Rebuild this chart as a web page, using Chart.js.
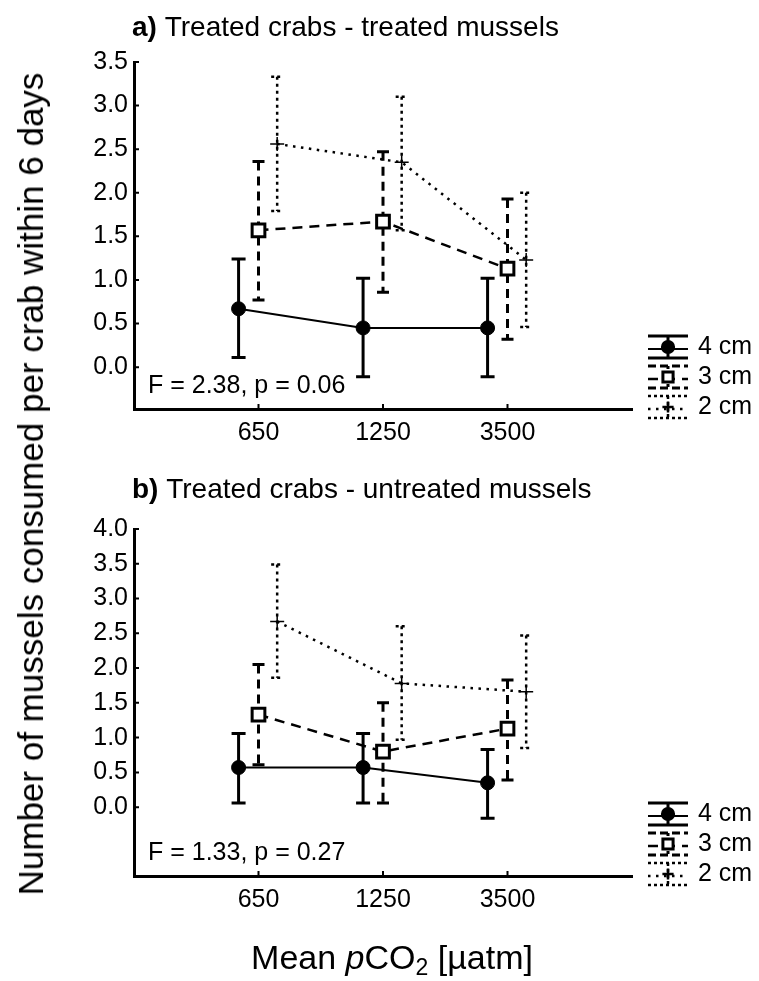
<!DOCTYPE html>
<html>
<head>
<meta charset="utf-8">
<script src="https://cdn.jsdelivr.net/npm/chart.js@4.4.0/dist/chart.umd.min.js"></script>
<style>
    html, body { margin: 0; padding: 0; background: #fff; }
    body { width: 759px; height: 981px; position: relative; overflow: hidden; font-family: 'Liberation Sans', Arial, sans-serif; color: #000; }
    .panel { position: absolute; left: 0; width: 759px; }
    #wrapA { top: 0; height: 470px; }
    #wrapB { top: 470px; height: 470px; }
    #ytitle { position: absolute; left: 31px; top: 484px; transform: translate(-50%, -50%) rotate(-90deg); white-space: nowrap; font-size: 35px; }
    #xtitle { position: absolute; left: 392px; top: 957px; transform: translate(-50%, -50%); white-space: nowrap; font-size: 34px; }
    #xtitle sub { font-size: 23px; vertical-align: -6px; line-height: 0; }
</style>
</head>
<body>
<div class="panel" id="wrapA"><canvas id="chartA" width="759" height="470"></canvas></div>
<div class="panel" id="wrapB"><canvas id="chartB" width="759" height="470"></canvas></div>
<div id="ytitle">Number of mussels consumed per crab within 6 days</div>
<div id="xtitle">Mean <i>p</i>CO<sub>2</sub> [µatm]</div>
<script>
// x categories (mean pCO2) and series
const categories = ['650', '1250', '3500'];
const seriesNames = ['4 cm', '3 cm', '2 cm'];

// a) treated crabs - treated mussels
const aMean4 = [0.67, 0.45, 0.45];
const aLow4 = [0.11, -0.11, -0.11];
const aHigh4 = [1.24, 1.02, 1.02];
const aMean3 = [1.57, 1.67, 1.13];
const aLow3 = [0.77, 0.86, 0.32];
const aHigh3 = [2.36, 2.47, 1.93];
const aMean2 = [2.56, 2.35, 1.23];
const aLow2 = [1.79, 1.57, 0.46];
const aHigh2 = [3.33, 3.10, 2.00];
const aTicks = [0, 0.5, 1.0, 1.5, 2.0, 2.5, 3.0, 3.5];

// b) treated crabs - untreated mussels
const bMean4 = [0.57, 0.57, 0.35];
const bLow4 = [0.06, 0.06, -0.16];
const bHigh4 = [1.06, 1.06, 0.83];
const bMean3 = [1.33, 0.80, 1.13];
const bLow3 = [0.61, 0.06, 0.39];
const bHigh3 = [2.05, 1.50, 1.83];
const bMean2 = [2.67, 1.78, 1.66];
const bLow2 = [1.86, 0.97, 0.85];
const bHigh2 = [3.49, 2.60, 2.47];
const bTicks = [0, 0.5, 1.0, 1.5, 2.0, 2.5, 3.0, 3.5, 4.0];

const FONT = "'Liberation Sans', Arial, sans-serif";

// per-series look: solid/filled circle, dashed/open square, dotted/cross
const STYLE = [
    { shift: -0.16, dash: [], lineWidth: 2, barWidth: 3, barDash: [], capDash: [], cap: 7, point: 'circle', radius: 7, fill: '#000', pointBorder: 1 },
    { shift: 0, dash: [10, 7], lineWidth: 2.5, barWidth: 3, barDash: [9, 6], capDash: [], cap: 6, point: 'rect', radius: 9, fill: '#fff', pointBorder: 3 },
    { shift: 0.15, dash: [2.5, 5.5], lineWidth: 2.5, barWidth: 2.5, barDash: [3, 4], capDash: [3, 3], cap: 6, point: 'cross', radius: 7, fill: '#000', pointBorder: 1.5 },
];

function buildDatasets(means) {
    return means.map((m, i) => ({
        label: seriesNames[i],
        data: m.map((v, j) => ({ x: j + STYLE[i].shift, y: v })),
        borderColor: '#000',
        borderWidth: STYLE[i].lineWidth,
        borderDash: STYLE[i].dash,
        pointStyle: STYLE[i].point,
        pointRadius: STYLE[i].radius,
        pointBackgroundColor: STYLE[i].fill,
        pointBorderColor: '#000',
        pointBorderWidth: STYLE[i].pointBorder,
        tension: 0,
        fill: false,
    }));
}

// error bars, inward ticks, panel title, F-test note and legend
const panelDeco = {
    id: 'panelDeco',
    beforeDatasetsDraw(chart, args, o) {
        const { ctx, scales: { x, y } } = chart;
        ctx.save();
        ctx.strokeStyle = '#000';
        o.low.forEach((lows, i) => {
            const st = STYLE[i];
            ctx.lineWidth = st.barWidth;
            lows.forEach((lo, j) => {
                const px = x.getPixelForValue(j + st.shift);
                const p1 = y.getPixelForValue(lo);
                const p2 = y.getPixelForValue(o.high[i][j]);
                ctx.setLineDash(st.barDash);
                ctx.beginPath();
                ctx.moveTo(px, p2);
                ctx.lineTo(px, p1);
                ctx.stroke();
                ctx.setLineDash(st.capDash);
                ctx.beginPath();
                ctx.moveTo(px - st.cap, p1); ctx.lineTo(px + st.cap, p1);
                ctx.moveTo(px - st.cap, p2); ctx.lineTo(px + st.cap, p2);
                ctx.stroke();
            });
        });
        ctx.restore();
    },
    afterDraw(chart, args, o) {
        const { ctx, chartArea: ca, scales: { x, y } } = chart;
        ctx.save();
        ctx.strokeStyle = '#000';
        ctx.fillStyle = '#000';
        ctx.lineWidth = 2;
        ctx.setLineDash([]);
        ctx.beginPath();
        o.yTicks.forEach(v => {
            const py = y.getPixelForValue(v);
            ctx.moveTo(ca.left, py);
            ctx.lineTo(ca.left + 5, py);
        });
        categories.forEach((c, j) => {
            const px = x.getPixelForValue(j);
            ctx.moveTo(px, ca.bottom);
            ctx.lineTo(px, ca.bottom - 5);
        });
        ctx.stroke();

        // title
        ctx.textBaseline = 'middle';
        ctx.textAlign = 'left';
        ctx.font = 'bold 28px ' + FONT;
        ctx.fillText(o.tag, 132, o.titleY);
        const w = ctx.measureText(o.tag).width;
        ctx.font = '28px ' + FONT;
        ctx.fillText(' ' + o.title, 132 + w, o.titleY);

        ctx.font = '25px ' + FONT;
        ctx.fillText(o.stat, ca.left + 14, ca.bottom - 23);

        // legend: error-bar glyph + marker per series
        const lx = ca.right + 36;
        seriesNames.forEach((name, i) => {
            const st = STYLE[i];
            const cy = ca.bottom - 62 + 30 * i;
            ctx.lineWidth = st.barWidth;
            ctx.setLineDash(st.capDash.length ? st.capDash : (i === 1 ? [8, 4] : []));
            ctx.beginPath();
            ctx.moveTo(lx - 20, cy - 11); ctx.lineTo(lx + 20, cy - 11);
            ctx.moveTo(lx - 20, cy + 11); ctx.lineTo(lx + 20, cy + 11);
            ctx.stroke();
            ctx.setLineDash(st.dash);
            ctx.lineWidth = st.lineWidth;
            ctx.beginPath();
            ctx.moveTo(lx - 20, cy + 2); ctx.lineTo(lx + 20, cy + 2);
            ctx.stroke();
            ctx.setLineDash(st.barDash.length ? [3, 3] : []);
            ctx.lineWidth = st.barWidth;
            ctx.beginPath();
            ctx.moveTo(lx, cy - 11); ctx.lineTo(lx, cy + 11);
            ctx.stroke();
            ctx.setLineDash([]);
            ctx.fillStyle = st.fill;
            Chart.helpers.drawPoint(ctx, { pointStyle: st.point, radius: st.radius * 0.8, borderWidth: st.pointBorder }, lx, cy);
            ctx.fillStyle = '#000';
            ctx.font = '25px ' + FONT;
            ctx.fillText(name, lx + 30, cy);
        });
        ctx.restore();
    }
};

function makePanel(canvasId, means, lows, highs, yMin, yMax, ticks, padTop, xHeight, tag, title, titleY, stat) {
    const ctx = document.getElementById(canvasId).getContext('2d');
    return new Chart(ctx, {
        type: 'line',
        data: { datasets: buildDatasets(means) },
        plugins: [panelDeco],
        options: {
            responsive: false,
            animation: false,
            devicePixelRatio: 1,
            layout: { padding: { top: padTop, right: 127, left: 0, bottom: 0 } },
            plugins: {
                legend: { display: false },
                tooltip: { enabled: false },
                panelDeco: { low: lows, high: highs, yTicks: ticks, tag, title, titleY, stat },
            },
            scales: {
                x: {
                    type: 'linear',
                    min: -1,
                    max: 3,
                    afterBuildTicks: s => { s.ticks = categories.map((c, j) => ({ value: j })); },
                    afterFit: s => { s.height = xHeight; },
                    grid: { display: false, drawTicks: false },
                    border: { display: true, color: '#000', width: 3 },
                    ticks: {
                        autoSkip: false,
                        maxRotation: 0,
                        padding: 9,
                        color: '#000',
                        font: { family: FONT, size: 25 },
                        callback: v => categories[v],
                    },
                },
                y: {
                    type: 'linear',
                    min: yMin,
                    max: yMax,
                    afterBuildTicks: s => { s.ticks = ticks.map(v => ({ value: v })); },
                    afterFit: s => { s.width = 134; },
                    grid: { display: false, drawTicks: false },
                    border: { display: true, color: '#000', width: 3 },
                    ticks: {
                        autoSkip: false,
                        padding: 6,
                        color: '#000',
                        font: { family: FONT, size: 25 },
                        callback: v => v.toFixed(1),
                    },
                },
            },
        },
    });
}

makePanel('chartA',
    [aMean4, aMean3, aMean2], [aLow4, aLow3, aLow2], [aHigh4, aHigh3, aHigh2],
    -0.48, 3.5, aTicks, 62, 61,
    'a)', 'Treated crabs - treated mussels', 28, 'F = 2.38, p = 0.06');

makePanel('chartB',
    [bMean4, bMean3, bMean2], [bLow4, bLow3, bLow2], [bHigh4, bHigh3, bHigh2],
    -0.99, 4.0, bTicks, 59, 64,
    'b)', 'Treated crabs - untreated mussels', 20, 'F = 1.33, p = 0.27');
</script>
</body>
</html>
